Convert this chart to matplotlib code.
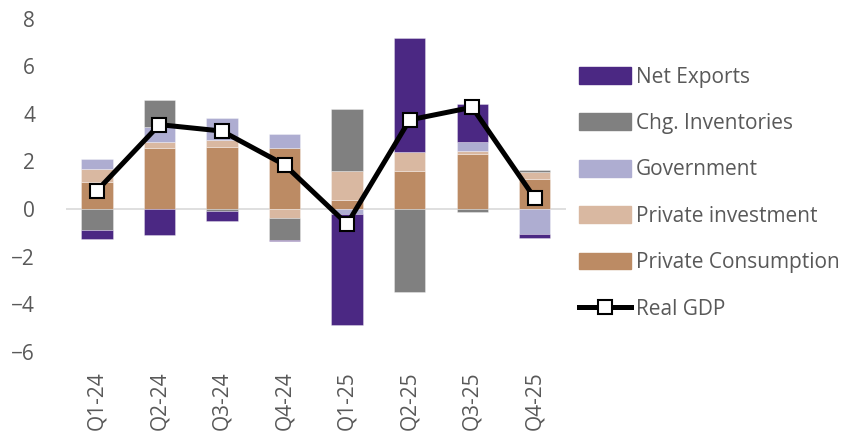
import matplotlib
matplotlib.use("Agg")
import matplotlib.pyplot as plt
import numpy as np
from matplotlib.patches import Patch
from matplotlib.lines import Line2D

plt.rcParams['font.family'] = ['Open Sans', 'DejaVu Sans']

quarters = ["Q1-24", "Q2-24", "Q3-24", "Q4-24", "Q1-25", "Q2-25", "Q3-25", "Q4-25"]

# contributions to growth, percentage points
consumption = [1.13, 2.57, 2.61, 2.57, 0.40, 1.61, 2.31, 1.26]
investment = [0.57, 0.27, 0.31, -0.37, 1.20, 0.80, 0.13, 0.28]
government = [0.40, 0.60, 0.90, 0.57, -0.20, 0.00, 0.39, -1.04]
inventories = [-0.87, 1.16, -0.08, -0.92, 2.61, -3.47, -0.13, 0.11]
net_exports = [-0.41, -1.08, -0.42, -0.05, -4.68, 4.77, 1.60, -0.18]
real_gdp = [0.77, 3.55, 3.28, 1.86, -0.63, 3.75, 4.28, 0.46]

series = [
    ("Private Consumption", consumption, "#BC8B64"),
    ("Private investment", investment, "#D9B8A1"),
    ("Government", government, "#AEADD1"),
    ("Chg. Inventories", inventories, "#808080"),
    ("Net Exports", net_exports, "#4B2883"),
]

txt = "#595959"

fig = plt.figure(figsize=(8.41, 4.38), dpi=100)
ax = fig.add_axes([0.078, 0.197, 0.595, 0.76])

x = np.arange(len(quarters))
pos_base = np.zeros(len(quarters))
neg_base = np.zeros(len(quarters))
for name, vals, col in series:
    v = np.array(vals)
    base = np.where(v >= 0, pos_base, neg_base)
    ax.bar(x, v, width=0.5, bottom=base, color=col,
           edgecolor=(1, 1, 1, 0.45), linewidth=0.5, zorder=2)
    pos_base += np.where(v >= 0, v, 0)
    neg_base += np.where(v < 0, v, 0)

ax.axhline(0, color="#D9D9D9", lw=1.2, zorder=1)
ax.plot(x, real_gdp, color="black", lw=3.6, marker="s", markersize=10,
        markerfacecolor="white", markeredgecolor="black", markeredgewidth=1.5,
        zorder=3)

ax.set_xlim(-0.5, len(quarters) - 0.5)
ax.set_ylim(-6, 8)
ax.set_yticks(np.arange(-6, 9, 2))
ax.set_xticks(x)
ax.set_xticklabels(quarters, rotation=90)
ax.tick_params(axis="y", length=0, pad=22, labelsize=15, labelcolor=txt)
ax.tick_params(axis="x", length=0, pad=14, labelsize=15, labelcolor=txt)
for s in ax.spines.values():
    s.set_visible(False)

handles = [Patch(color=col, label=name) for name, vals, col in reversed(series)]
handles.append(Line2D([], [], color="black", lw=3.6, marker="s", markersize=10,
                      markerfacecolor="white", markeredgecolor="black",
                      markeredgewidth=1.5, label="Real GDP"))
fig.legend(handles=handles, loc="upper left", bbox_to_anchor=(0.688, 0.848),
           frameon=False, fontsize=15, labelcolor=txt, handlelength=2.5,
           handleheight=0.85, handletextpad=0.25, labelspacing=1.22,
           borderpad=0, borderaxespad=0)

fig.savefig("out.png", dpi=100)
